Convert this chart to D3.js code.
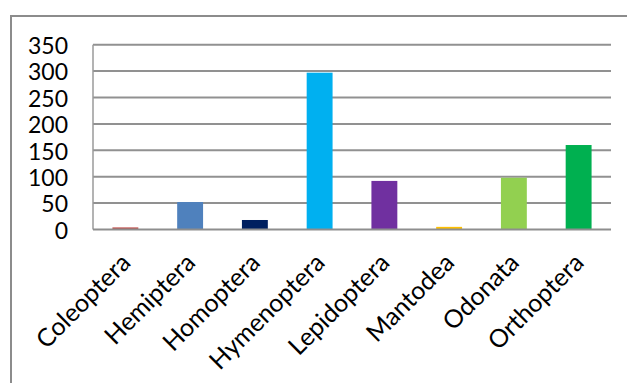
<!DOCTYPE html>
<html>
<head>
<meta charset="utf-8">
<script src="https://cdn.jsdelivr.net/npm/d3@7"></script>
<style>
  body { margin: 0; background: #fff; }
  svg { display: block; }
  text { font-family: Lato, "Open Sans", sans-serif; fill: #000; }
</style>
</head>
<body>
<div id="chart"></div>
<script>
// insect orders and counts
var orders = ["Coleoptera", "Hemiptera", "Homoptera", "Hymenoptera",
              "Lepidoptera", "Mantodea", "Odonata", "Orthoptera"];
var counts = [4, 52, 18, 297, 92, 5, 98, 160];
var colors = ["#c0504d", "#4f81bd", "#002060", "#00b0f0",
              "#7030a0", "#ffc000", "#92d050", "#00b050"];
var yTicks = [0, 50, 100, 150, 200, 250, 300, 350];

var data = orders.map(function(d, i) {
  return {order: d, count: counts[i], color: colors[i]};
});

var W = 627, H = 383;
// plot box
var plotLeft = 93, plotRight = 611, plotTop = 44.7, plotBottom = 229.5;

var svg = d3.select("#chart").append("svg")
    .attr("width", W)
    .attr("height", H);

// outer frame (runs off the picture on the right and bottom)
svg.append("rect")
    .attr("x", 11).attr("y", 16)
    .attr("width", 640).attr("height", 400)
    .attr("fill", "none")
    .attr("stroke", "#8c8c8c")
    .attr("stroke-width", 2);

var xScale = d3.scaleBand()
    .domain(orders)
    .range([plotLeft, plotRight])
    .paddingInner(0.6)
    .paddingOuter(0.3);

var yScale = d3.scaleLinear()
    .domain([0, 350])
    .range([plotBottom, plotTop]);

// gridlines (the zero line is drawn later, over the bars)
svg.append("g").selectAll("line")
    .data(yTicks.filter(function(d) { return d > 0; }))
    .enter().append("line")
    .attr("x1", plotLeft).attr("x2", plotRight)
    .attr("y1", function(d) { return yScale(d); })
    .attr("y2", function(d) { return yScale(d); })
    .attr("stroke", "#919191")
    .attr("stroke-width", 2);

// left axis line
svg.append("line")
    .attr("x1", plotLeft).attr("x2", plotLeft)
    .attr("y1", plotTop).attr("y2", plotBottom)
    .attr("stroke", "#9a9a9a")
    .attr("stroke-width", 1.5);

// bars
svg.selectAll(".bar")
    .data(data)
    .enter().append("rect")
    .attr("class", "bar")
    .attr("x", function(d) { return xScale(d.order); })
    .attr("width", xScale.bandwidth())
    .attr("y", function(d) { return yScale(d.count); })
    .attr("height", function(d) { return plotBottom - yScale(d.count); })
    .attr("fill", function(d) { return d.color; });

// zero line
svg.append("line")
    .attr("x1", plotLeft).attr("x2", plotRight)
    .attr("y1", yScale(0)).attr("y2", yScale(0))
    .attr("stroke", "#8e8e8e")
    .attr("stroke-width", 2);

// y tick labels
var yAxis = d3.axisLeft(yScale).tickValues(yTicks).tickSize(0).tickPadding(25);
var gy = svg.append("g")
    .attr("transform", "translate(" + plotLeft + ",0)")
    .call(yAxis);
gy.select(".domain").remove();
gy.selectAll("text")
    .style("font-family", "Lato, 'Open Sans', sans-serif")
    .style("font-size", "23px")
    .attr("dy", "0.38em")
    .attr("fill", "#000");

// x labels, rotated
var xAxis = d3.axisBottom(xScale).tickSize(0).tickPadding(0);
var gx = svg.append("g")
    .attr("transform", "translate(0," + plotBottom + ")")
    .call(xAxis);
gx.select(".domain").remove();
gx.selectAll("text")
    .style("font-family", "Lato, 'Open Sans', sans-serif")
    .style("font-size", "25px")
    .attr("fill", "#000")
    .attr("text-anchor", "end")
    .attr("y", 0)
    .attr("dy", "0.72em")
    .attr("transform", "translate(-6,22) rotate(-45)");
</script>
</body>
</html>
